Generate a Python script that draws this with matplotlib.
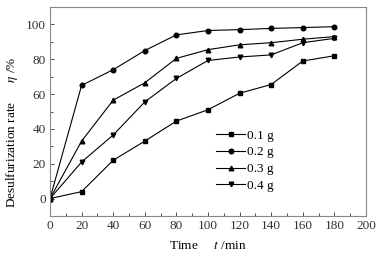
import matplotlib
matplotlib.use('Agg')
import matplotlib.pyplot as plt
from matplotlib.ticker import MultipleLocator

plt.rcParams['font.family'] = ['Liberation Serif', 'DejaVu Serif']
plt.rcParams['mathtext.fontset'] = 'stix'

# 数据
time_min = [0, 20, 40, 60, 80, 100, 120, 140, 160, 180]
rate_01 = [0, 4, 22, 33, 44.5, 51, 60.5, 65.5, 79, 82]
rate_02 = [0, 65, 74, 85, 94, 96.5, 97, 97.7, 98.2, 98.7]
rate_03 = [0, 33, 56.5, 66.5, 80.5, 85.5, 88.3, 89.5, 91.5, 93]
rate_04 = [0, 21, 36.5, 55.5, 69, 79.3, 81.3, 82.5, 89.5, 92]
labels = ['0.1 g', '0.2 g', '0.3 g', '0.4 g']
markers = ['s', 'o', '^', 'v']

fig = plt.figure(figsize=(3.85, 2.59), dpi=100)
ax = fig.add_axes([50 / 385, 1 - 216 / 259, 316 / 385, 209 / 259])

for ys, lab, mk in zip([rate_01, rate_02, rate_03, rate_04], labels, markers):
    ax.plot(time_min, ys, color='black', linewidth=0.8, marker=mk,
            markersize=3.3, label=lab)

ax.set_xlim(0, 200)
ax.set_ylim(-10, 110)
ax.xaxis.set_major_locator(MultipleLocator(20))
ax.xaxis.set_minor_locator(MultipleLocator(10))
ax.yaxis.set_major_locator(MultipleLocator(20))
ax.yaxis.set_minor_locator(MultipleLocator(10))
ax.tick_params(which='both', direction='in', top=False, right=False,
               labelsize=9.5, colors='#333333', width=0.6, pad=3)
ax.tick_params(which='major', length=3)
ax.tick_params(which='minor', length=2)
for sp in ax.spines.values():
    sp.set_color('#888888')
    sp.set_linewidth(0.8)

ax.set_xlabel(r'Time     $t$ /min', fontsize=9.5)
ax.xaxis.set_label_coords(0.5, -0.115)
ax.set_ylabel(r'Desulfurization rate      $\eta$ /%', fontsize=9.5)
ax.yaxis.set_label_coords(-0.095, 0.40)

leg = ax.legend(loc='upper left', bbox_to_anchor=(0.51, 0.44), frameon=False,
                fontsize=9.5, handlelength=2.2, handletextpad=0.15,
                labelspacing=0.35, borderaxespad=0)

plt.savefig('out.png', dpi=100)
plt.close()
